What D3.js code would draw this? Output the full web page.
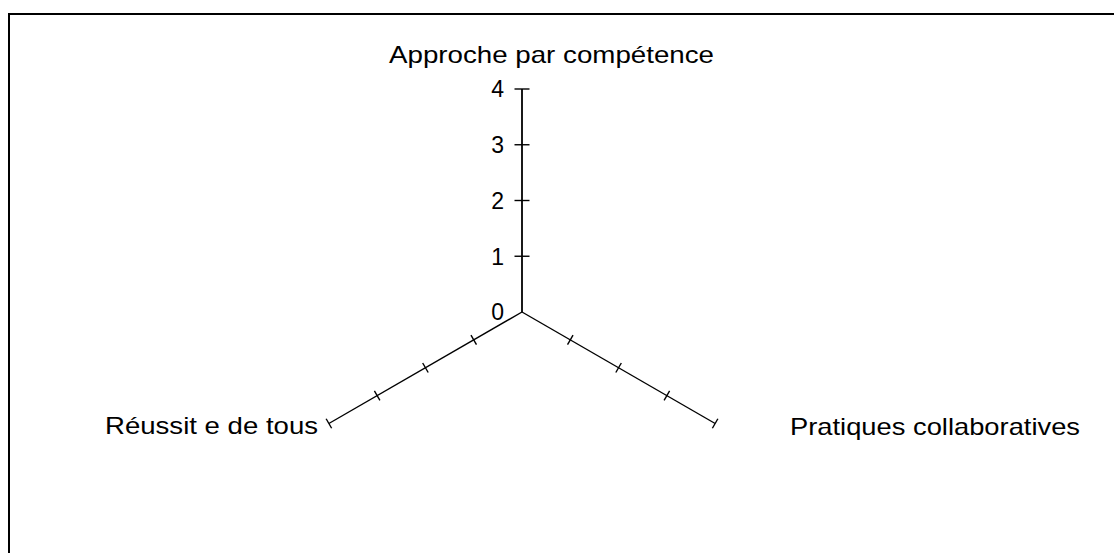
<!DOCTYPE html>
<html>
<head>
<meta charset="utf-8">
<script src="https://cdn.jsdelivr.net/npm/d3@7"></script>
<style>
  html, body { margin: 0; padding: 0; background: #fff; }
  svg { display: block; }
  text { font-family: "Liberation Sans", Arial, sans-serif; fill: #000; }
</style>
</head>
<body>
<svg id="chart" width="1114" height="553"></svg>
<script>
// ---- data ----
const categories = ["Approche par compétence", "Pratiques collaboratives", "Réussite de tous"];
const categoryLabels = ["Approche par compétence", "Pratiques collaboratives", "Réussit e de tous"];
const tickValues = [0, 1, 2, 3, 4];
const tickLabels = ["0", "1", "2", "3", "4"];

// ---- layout ----
const W = 1114, H = 553;
const cx = 522, cy = 312, R = 223;
const svg = d3.select("#chart");

// frame (top & left border)
svg.append("path")
  .attr("d", `M9,${H} L9,14 L${W},14`)
  .attr("fill", "none").attr("stroke", "#000").attr("stroke-width", 2);

const r = d3.scaleLinear().domain([0, d3.max(tickValues)]).range([0, R]);
const angle = d3.scalePoint().domain(categories).range([-90, 270]).padding(0);
// three axes at -90, 30, 150 degrees
const angOf = (c, i) => (-90 + i * 120) * Math.PI / 180;

const g = svg.append("g");

categories.forEach((c, i) => {
  const a = angOf(c, i);
  const ux = Math.cos(a), uy = Math.sin(a);
  const px = -uy, py = ux; // perpendicular
  // axis line
  g.append("line")
    .attr("x1", cx).attr("y1", cy)
    .attr("x2", cx + ux * r(d3.max(tickValues)))
    .attr("y2", cy + uy * r(d3.max(tickValues)))
    .attr("stroke", "#000").attr("stroke-width", i === 0 ? 1.8 : 1.4);
  // ticks
  const half = i === 0 ? 7.5 : 5.5;
  tickValues.filter(v => v > 0).forEach(v => {
    const x = cx + ux * r(v), y = cy + uy * r(v);
    g.append("line")
      .attr("x1", x - px * half).attr("y1", y - py * half)
      .attr("x2", x + px * half).attr("y2", y + py * half)
      .attr("stroke", "#000").attr("stroke-width", 1.4);
  });
});

// tick labels on the vertical axis
tickValues.forEach((v, k) => {
  g.append("text")
    .attr("x", cx - 18)
    .attr("y", cy - r(v))
    .attr("dy", "0.36em")
    .attr("text-anchor", "end")
    .attr("font-size", 23)
    .text(tickLabels[k]);
});

// category labels
const labelPos = [
  { x: 389, y: 63, len: 325 },
  { x: 790, y: 435, len: 290 },
  { x: 105, y: 434, len: 213 }
];
categoryLabels.forEach((t, i) => {
  g.append("text")
    .attr("x", labelPos[i].x)
    .attr("y", labelPos[i].y)
    .attr("font-size", 24)
    .attr("textLength", labelPos[i].len)
    .attr("lengthAdjust", "spacingAndGlyphs")
    .text(t);
});
</script>
</body>
</html>
